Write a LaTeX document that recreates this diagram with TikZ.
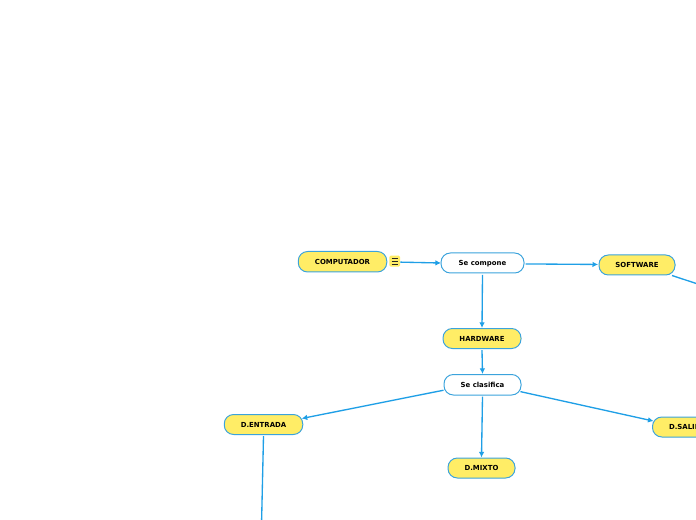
\documentclass[tikz,border=0pt]{standalone}
\usepackage{fontspec}
\setmainfont{DejaVu Sans}
\usetikzlibrary{arrows.meta}
\definecolor{linkblue}{HTML}{1F9FE6}
\definecolor{edgeblue}{HTML}{3BA3DC}
\definecolor{topicyellow}{HTML}{FFED66}
\tikzset{
  base/.style={draw=edgeblue,line width=0.75pt,rounded corners=7pt,inner sep=0pt,align=center,
    text height=3.8pt,text depth=0pt,
    font=\bfseries\fontsize{5.2pt}{6pt}\selectfont,text=black,anchor=center},
  topic/.style={base,fill=topicyellow},
  plain/.style={base,fill=white},
  link/.style={draw=linkblue,line width=1pt,-{Latex[length=4.2pt,width=4.2pt]}},
  linkfree/.style={draw=linkblue,line width=1pt},
  iconbox/.style={fill=topicyellow,rounded corners=1pt,minimum width=8pt,minimum height=8.25pt,inner sep=0pt}
}
\newcommand{\bx}[6]{\node[#1,minimum width=#4*0.75pt,minimum height=#5*0.75pt] (#2) at (#3) {#6};}
\begin{document}
\begin{tikzpicture}[x=0.75pt,y=-0.75pt]
\useasboundingbox (0,0) rectangle (696,520);
\clip (0,0) rectangle (696,520);
\bx{topic}{comp}{342.5,261.75}{88.5}{20.5}{COMPUTADOR}
\bx{plain}{compone}{482.5,263}{83}{20}{Se compone}
\bx{topic}{hard}{482,338.5}{78}{20}{HARDWARE}
\bx{topic}{soft}{637,265}{76}{20}{SOFTWARE}
\bx{plain}{clasif}{482.5,384.75}{77}{20.5}{Se clasifica}
\bx{topic}{entrada}{263.5,424.5}{78.5}{20}{D.ENTRADA}
\bx{topic}{mixto}{481.5,468}{67}{20}{D.MIXTO}
\bx{topic}{salida}{687.5,427}{70}{20}{D.SALIDA}
\node[iconbox] (icon) at (394.7,261.2) {};
\draw[black!85,line width=0.5pt] (391.7,258.7) -- (398,258.7) (391.7,261.5) -- (398,261.5) (391.7,264.3) -- (398,264.3);
\coordinate (softend) at (711,288.4);
\coordinate (entend) at (261.4,530);
\draw[link] ([yshift=-0.7pt]icon.east) -- ([xshift=0.4pt]compone.west);
\draw[link] ([xshift=0.8pt,yshift=-0.7pt]compone.east) -- ([xshift=-0.3pt,yshift=0.4pt]soft.west);
\draw[link] ([yshift=-1pt]compone.south) -- (hard.north);
\draw[link] ([yshift=-0.8pt]hard.south) -- (clasif.north);
\draw[link,shorten >=-1.2pt] (clasif.188.9) -- (entrada.9.6);
\draw[link] ([yshift=-0.8pt]clasif.south) -- (mixto.north);
\draw[link,shorten >=-1.2pt] ([xshift=-0.8pt]clasif.-10.4) -- (salida.170.3);
\draw[linkfree] ([xshift=-1.2pt]soft.-16.4) -- (softend);
\draw[linkfree] ([yshift=-0.8pt]entrada.south) -- (entend);
\end{tikzpicture}
\end{document}
